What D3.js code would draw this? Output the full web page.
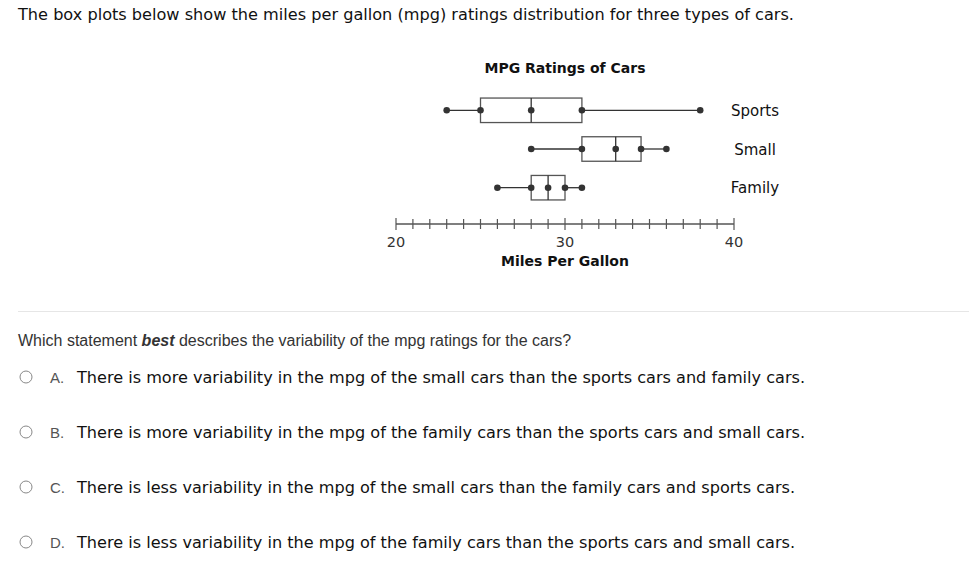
<!DOCTYPE html>
<html><head><meta charset="utf-8">
<script src="https://cdn.jsdelivr.net/npm/d3@7"></script>
<style>body{margin:0;background:#fff}svg{display:block}</style>
</head><body>
<svg id="c" width="969" height="570"></svg>
<script>
const categories = ["Sports", "Small", "Family"];
const minVals = [23, 28, 26];
const q1Vals = [25, 31, 28];
const medianVals = [28, 33, 29];
const q3Vals = [31, 34.5, 30];
const maxVals = [38, 36, 31];
const tickValues = [20, 30, 40];
const optionLetters = ["A.", "B.", "C.", "D."];
const optionTexts = [
  "There is more variability in the mpg of the small cars than the sports cars and family cars.",
  "There is more variability in the mpg of the family cars than the sports cars and small cars.",
  "There is less variability in the mpg of the small cars than the family cars and sports cars.",
  "There is less variability in the mpg of the family cars than the sports cars and small cars."
];
const optionWidths = [728, 728, 718, 718];

const svg = d3.select("#c");
const x = d3.scaleLinear().domain([20, 40]).range([396, 734]);
const y = d3.scalePoint().domain(categories).range([110.3, 187.7]);
const boxH = 24.5;
const dark = "#333";

svg.append("text").attr("x", 18).attr("y", 20).attr("font-family", "DejaVu Sans")
  .attr("font-size", 16).attr("fill", "#111").attr("textLength", 776).attr("lengthAdjust", "spacingAndGlyphs")
  .text("The box plots below show the miles per gallon (mpg) ratings distribution for three types of cars.");

svg.append("text").attr("x", 565).attr("y", 73).attr("text-anchor", "middle")
  .attr("font-family", "DejaVu Sans").attr("font-weight", "bold").attr("font-size", 14).attr("fill", "#111")
  .text("MPG Ratings of Cars");

const data = categories.map((c, i) => ({c, min: minVals[i], q1: q1Vals[i], med: medianVals[i], q3: q3Vals[i], max: maxVals[i]}));
const g = svg.append("g");
data.forEach(d => {
  const yc = y(d.c);
  const top = yc - boxH / 2;
  g.append("line").attr("x1", x(d.min)).attr("x2", x(d.q1)).attr("y1", yc).attr("y2", yc).attr("stroke", dark).attr("stroke-width", 1.3);
  g.append("line").attr("x1", x(d.q3)).attr("x2", x(d.max)).attr("y1", yc).attr("y2", yc).attr("stroke", dark).attr("stroke-width", 1.3);
  g.append("rect").attr("x", x(d.q1)).attr("y", top).attr("width", x(d.q3) - x(d.q1)).attr("height", boxH)
    .attr("fill", "none").attr("stroke", "#555").attr("stroke-width", 1.3);
  g.append("line").attr("x1", x(d.med)).attr("x2", x(d.med)).attr("y1", top).attr("y2", top + boxH).attr("stroke", dark).attr("stroke-width", 1.3);
  [d.min, d.q1, d.med, d.q3, d.max].forEach(v => {
    g.append("circle").attr("cx", x(v)).attr("cy", yc).attr("r", 3.3).attr("fill", dark);
  });
  g.append("text").attr("x", 755).attr("y", yc + 5.5).attr("text-anchor", "middle")
    .attr("font-family", "DejaVu Sans").attr("font-size", 15).attr("fill", "#111").text(d.c);
});

// axis
const axisG = svg.append("g").attr("transform", "translate(0,224)");
const minor = d3.range(20, 41, 1);
axisG.append("line").attr("x1", x(20)).attr("x2", x(40)).attr("stroke", "#555").attr("stroke-width", 1.3);
axisG.selectAll(".t").data(minor).join("line")
  .attr("x1", d => x(d)).attr("x2", d => x(d))
  .attr("y1", d => tickValues.includes(d) ? -6 : -5).attr("y2", d => tickValues.includes(d) ? 6 : 5)
  .attr("stroke", "#555").attr("stroke-width", 1.2);
axisG.selectAll(".l").data(tickValues).join("text")
  .attr("x", d => x(d)).attr("y", 23).attr("text-anchor", "middle")
  .attr("font-family", "DejaVu Sans").attr("font-size", 14.5).attr("fill", "#333").text(d => d);
svg.append("text").attr("x", 565).attr("y", 266).attr("text-anchor", "middle")
  .attr("font-family", "DejaVu Sans").attr("font-weight", "bold").attr("font-size", 14).attr("fill", "#111")
  .text("Miles Per Gallon");

svg.append("line").attr("x1", 18).attr("x2", 969).attr("y1", 311.5).attr("y2", 311.5).attr("stroke", "#e6e6e6");

const q = svg.append("text").attr("x", 18).attr("y", 346).attr("font-family", "Liberation Sans, Arial")
  .attr("font-size", 16).attr("fill", "#333");
q.append("tspan").text("Which statement ");
q.append("tspan").attr("font-weight", "bold").attr("font-style", "italic").text("best");
q.append("tspan").text(" describes the variability of the mpg ratings for the cars?");

optionTexts.forEach((t, i) => {
  const yy = 377 + i * 55;
  svg.append("circle").attr("cx", 26).attr("cy", yy).attr("r", 6).attr("fill", "#fff").attr("stroke", "#888").attr("stroke-width", 1);
  svg.append("text").attr("x", 50).attr("y", yy + 6).attr("font-family", "Liberation Sans, Arial")
    .attr("font-size", 15).attr("fill", "#555").text(optionLetters[i]);
  svg.append("text").attr("x", 77).attr("y", yy + 6).attr("font-family", "DejaVu Sans")
    .attr("font-size", 16).attr("fill", "#111")
    .attr("textLength", optionWidths[i]).attr("lengthAdjust", "spacingAndGlyphs").text(t);
});
</script>
</body></html>
